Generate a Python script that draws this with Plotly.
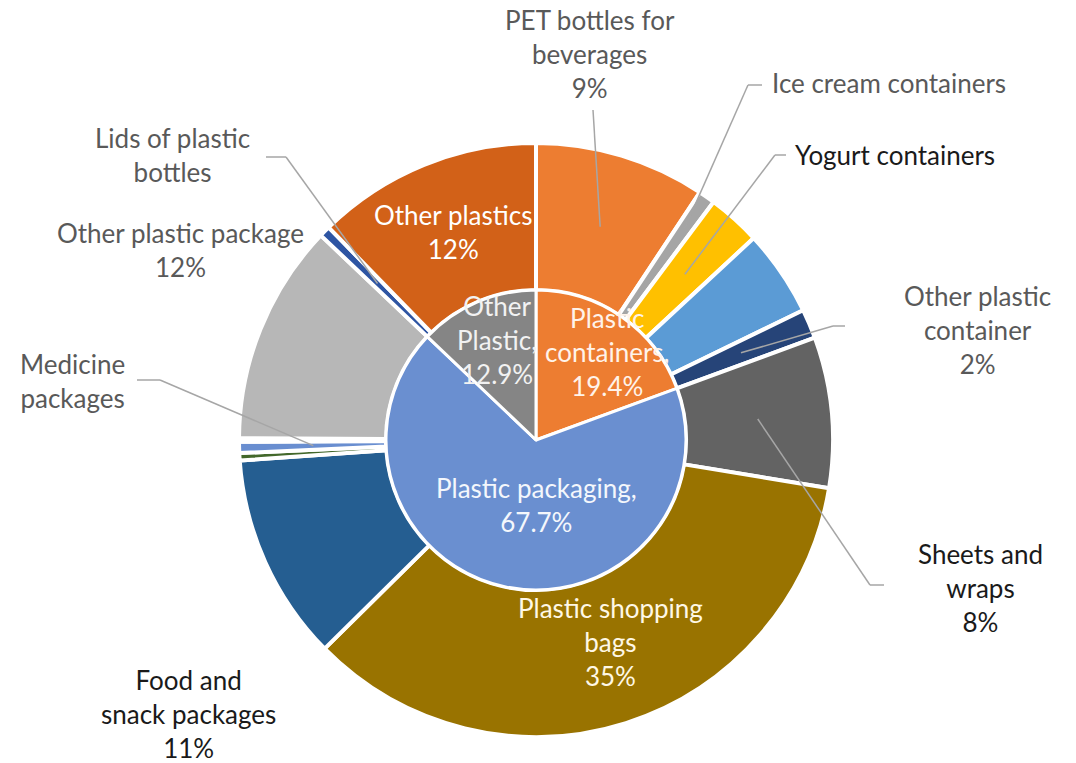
import math
import plotly.graph_objects as go

W, H = 1076, 763

# Inner ring: plastic groups, share of total (%)
group_labels = ["Plastic containers", "Plastic packaging", "Other Plastic"]
group_values = [19.4, 67.7, 12.9]
group_colors = ["#ED7D31", "#6A8FD0", "#858585"]

# Outer ring: individual items, clockwise from 12 o'clock (%)
item_labels = [
    "PET bottles for beverages", "Ice cream containers", "Yogurt containers",
    "Unlabelled container item", "Other plastic container", "Sheets and wraps",
    "Plastic shopping bags", "Food and snack packages", "Unlabelled package item A",
    "Medicine packages", "Unlabelled package item B", "Other plastic package",
    "Lids of plastic bottles", "Other plastics",
]
item_values = [9.3, 0.9, 2.9, 4.7, 1.6, 8.2, 35.0, 11.3, 0.4, 0.6, 0.2, 12.0, 0.6, 12.3]
item_colors = [
    "#ED7D31", "#A5A5A5", "#FFC000", "#5B9BD5", "#264478", "#636363",
    "#997300", "#255E91", "#43682B", "#698ED0", "#F1975A", "#B7B7B7",
    "#2E55A3", "#D26118",
]

FONT = "Lato"
FS = 26
GREY_TXT = "#595959"
DARK_TXT = "#1A1A1A"
LEADER = "#A6A6A6"

# Geometry of the chart (pixels)
CX, CY = 536, 440
R_OUT = 297
R_IN = 150


def px(x):
    return x / W


def py(y):
    return 1 - y / H


def slice_point(values, idx, frac, radius):
    """Point at the mid-angle of slice idx, at frac * radius from the centre."""
    total = sum(values)
    mid = (sum(values[:idx]) + values[idx] / 2) / total * 2 * math.pi
    r = frac * radius
    return CX + r * math.sin(mid), CY - r * math.cos(mid)


def domain(radius):
    return dict(x=[px(CX - radius), px(CX + radius)],
                y=[py(CY + radius), py(CY - radius)])


fig = go.Figure()

fig.add_trace(go.Pie(
    labels=item_labels, values=item_values, sort=False,
    direction="clockwise", rotation=0, hole=R_IN / R_OUT,
    marker=dict(colors=item_colors, line=dict(color="white", width=4)),
    textinfo="none", hoverinfo="skip", showlegend=False,
    domain=domain(R_OUT),
))

fig.add_trace(go.Pie(
    labels=group_labels, values=group_values, sort=False,
    direction="clockwise", rotation=0,
    marker=dict(colors=group_colors, line=dict(color="white", width=3)),
    textinfo="none", hoverinfo="skip", showlegend=False,
    domain=domain(R_IN),
))


def pct(v):
    return f"{round(v)}%"


annotations = []
shapes = []


def add_text(text, x, y, color, xanchor="center", align="center"):
    annotations.append(dict(
        text=text, x=px(x), y=py(y), xref="paper", yref="paper",
        xanchor=xanchor, yanchor="middle", align=align, showarrow=False,
        font=dict(family=FONT, size=FS, color=color),
    ))


def add_leader(idx, frac, pts):
    x0, y0 = slice_point(item_values, idx, frac, R_OUT)
    chain = [(x0, y0)] + pts
    for (xa, ya), (xb, yb) in zip(chain[:-1], chain[1:]):
        shapes.append(dict(
            type="line", xref="paper", yref="paper",
            x0=px(xa), y0=py(ya), x1=px(xb), y1=py(yb),
            line=dict(color=LEADER, width=1.5),
        ))


v = dict(zip(item_labels, item_values))
i = {name: k for k, name in enumerate(item_labels)}

# Outer labels with leader lines
add_text(f"PET bottles for<br>beverages<br>{pct(v['PET bottles for beverages'])}",
         590, 54, GREY_TXT)
add_leader(i["PET bottles for beverages"], 0.75, [(593, 110)])

add_text("Ice cream containers", 770, 83, GREY_TXT, xanchor="left")
add_leader(i["Ice cream containers"], 0.87, [(748, 85), (762, 85)])

add_text("Yogurt containers", 793, 155, DARK_TXT, xanchor="left")
add_leader(i["Yogurt containers"], 0.75, [(775, 155), (786, 155)])

add_text(f"Other plastic<br>container<br>{pct(v['Other plastic container'])}",
         977, 330, GREY_TXT)
add_leader(i["Other plastic container"], 0.75, [(833, 326), (845, 326)])

add_text(f"Sheets and<br>wraps<br>{pct(v['Sheets and wraps'])}",
         980, 588, DARK_TXT)
add_leader(i["Sheets and wraps"], 0.75, [(870, 585), (884, 585)])

add_text(f"Food and<br>snack packages<br>{pct(v['Food and snack packages'])}",
         188, 714, DARK_TXT)

add_text("Medicine<br>packages", 72, 381, GREY_TXT)
add_leader(i["Medicine packages"], 0.75, [(160, 380), (137, 380)])

add_text(f"Other plastic package<br>{pct(v['Other plastic package'])}",
         181, 250, GREY_TXT)

add_text("Lids of plastic<br>bottles", 172, 155, GREY_TXT)
add_leader(i["Lids of plastic bottles"], 0.75, [(286, 157), (266, 157)])

# Labels inside the outer ring
add_text(f"Other plastics<br>{pct(v['Other plastics'])}", 453, 232, "white")
add_text(f"Plastic shopping<br>bags<br>{pct(v['Plastic shopping bags'])}",
         610, 642, "#FFF8E6")

# Labels inside the inner pie
g = dict(zip(group_labels, group_values))
add_text(f"Other<br>Plastic,<br>{g['Other Plastic']}%", 497, 340, "#F2F2F2")
add_text(f"Plastic<br>containers,<br>{g['Plastic containers']}%", 607, 352, "#FFF3EA")
add_text(f"Plastic packaging,<br>{g['Plastic packaging']}%", 536, 505, "#F4F7FC")

fig.update_layout(
    width=W, height=H,
    margin=dict(l=0, r=0, t=0, b=0),
    paper_bgcolor="white", plot_bgcolor="white",
    annotations=annotations, shapes=shapes,
    showlegend=False,
)

fig.write_html("out.html")
